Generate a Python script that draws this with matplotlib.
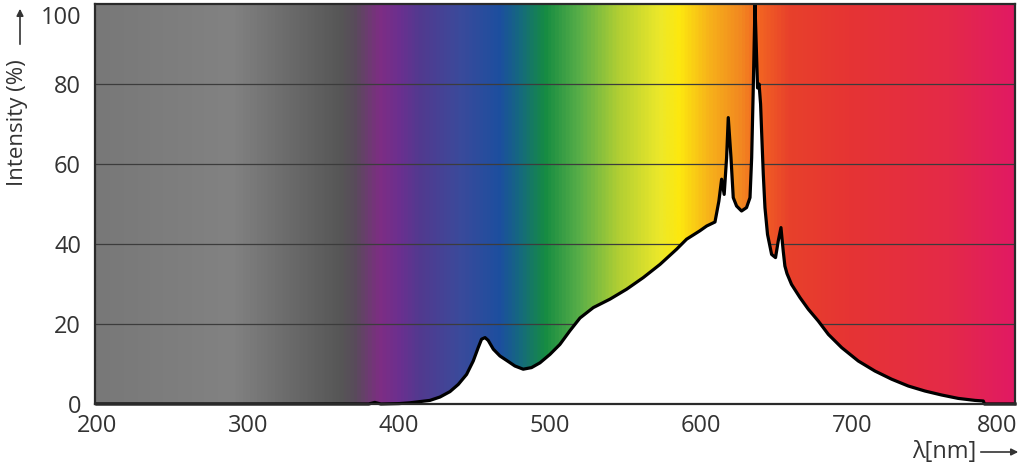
import numpy as np
import matplotlib
matplotlib.use("Agg")
import matplotlib.pyplot as plt
import matplotlib.patches as mpatches
import matplotlib.transforms as mtransforms
from matplotlib.colors import LinearSegmentedColormap

# ---- data ----
wavelength = [200, 380, 384, 388, 400, 407.3, 413.9, 420.5, 427.2, 433.8, 439.3, 444.8,
              449.2, 452.5, 454.7, 457, 459.1, 462.5, 466.9, 471.3, 476.8, 482.3,
              487.8, 493.4, 500, 506.6, 513.2, 519.9, 528.7, 539.7, 550.8, 561.8,
              572.9, 583.9, 590.5, 599.3, 603.8, 609.3, 611.9, 613.7, 615.4, 617,
              618.1, 619.9, 621.4, 623.6, 626.9, 630.2, 632.5, 633.6, 634.6, 635.8,
              636.6, 637.5, 638.5, 639.5, 640.2, 641.3, 642.4, 644.1, 646.8, 649.4,
              651.2, 653, 654.5, 655.6, 657, 660, 665.6, 671.1, 677.7, 684.4, 693.2,
              704.2, 715.2, 726.3, 737.3, 748.3, 759.4, 770.4, 781.5, 787, 787.8, 808]
intensity = [0, 0, 0.4, 0, 0.1, 0.3, 0.6, 0.9, 1.75, 3.1, 4.9, 7.4,
             10.75, 14.1, 16.2, 16.6, 15.9, 13.7, 12, 10.9, 9.5, 8.7,
             9.1, 10.3, 12.4, 14.9, 18.3, 21.5, 24.1, 26.2, 28.7, 31.6,
             34.9, 38.7, 41.2, 43.3, 44.5, 45.5, 50.75, 56.2, 52.4, 61.6,
             71.6, 61.6, 51.6, 49.5, 48.25, 49.1, 51.6, 61.6, 78, 99.8,
             90, 79, 80, 75, 68, 57.4, 49.1, 42.4, 37.4, 36.6,
             40.75, 44.1, 38.25, 34.5, 32.6, 29.9, 26.6, 23.7, 20.75, 17.4, 14.1,
             10.75, 8.25, 6.2, 4.5, 3.25, 2.25, 1.4, 0.9, 0.75, 0, 0]
x_ticks = [200, 300, 400, 500, 600, 700, 800]
y_ticks = [0, 20, 40, 60, 80, 100]

# ---- background colour stops (style) ----
stops = [(198.7, "#787878"), (288, "#828282"), (321, "#6e6e6e"), (361, "#565656"),
         (371, "#5a4a5c"), (387, "#7e2d84"), (400.7, "#6a3090"), (414, "#513a8f"),
         (440, "#3b4a9b"), (467, "#1c4f9f"), (480, "#15697f"), (497, "#168c42"),
         (520, "#5aaf48"), (546, "#b2cf33"), (573, "#ece82a"), (586, "#fde80f"),
         (606, "#f7b21a"), (626, "#f28a20"), (639, "#f26522"), (659, "#e8412b"),
         (699, "#e63434"), (765, "#e42a48"), (808, "#e11a63")]

xmin, xmax = 198.7, 808
ymin, ymax = 0, 100

plt.rcParams['font.family'] = ['Open Sans', 'DejaVu Sans']
fig = plt.figure(figsize=(10.24, 4.69), dpi=100)
ax = fig.add_axes([95/1024, 1 - 404/469, (1015-95)/1024, 400/469])

pos = [(p - xmin) / (xmax - xmin) for p, _ in stops]
pos[0] = 0.0
pos[-1] = 1.0
cmap = LinearSegmentedColormap.from_list("bg", list(zip(pos, [c for _, c in stops])))
grad = np.linspace(0, 1, 1200).reshape(1, -1)
ax.imshow(grad, cmap=cmap, aspect='auto', extent=[xmin, xmax, ymin, ymax],
          interpolation='bilinear', zorder=0)

for yv in y_ticks[1:-1]:
    ax.axhline(yv, color='#3c3c3c', lw=0.9, zorder=1)

ax.fill_between(wavelength, intensity, 0, color='white', zorder=2, lw=0)
ax.plot(wavelength, intensity, color='black', lw=2.3, zorder=3,
        solid_joinstyle='round', clip_on=False)

ax.set_xlim(xmin, xmax)
ax.set_ylim(ymin, ymax)
ax.set_xticks(x_ticks)
ax.set_yticks(y_ticks)
ax.tick_params(length=0, labelsize=17, colors='#333333', pad=7)
ax.tick_params(axis='y', pad=10)
for s in ax.spines.values():
    s.set_color('#2a2a2a')
    s.set_linewidth(1.6)
    s.set_zorder(4)

fig.canvas.draw()
ylabels = ax.get_yticklabels()
ylabels[-1].set_transform(ylabels[-1].get_transform() +
                          mtransforms.ScaledTranslation(0, -11/100, fig.dpi_scale_trans))
xlabels = ax.get_xticklabels()
xlabels[-1].set_transform(xlabels[-1].get_transform() +
                          mtransforms.ScaledTranslation(-6/100, 0, fig.dpi_scale_trans))

# y label with arrow
fig.text(18/1024, 1 - 123/469, "Intensity (%)", rotation=90, ha='center', va='center',
         fontsize=16, color='#333333')
fig.add_artist(mpatches.FancyArrowPatch(
    (20/1024, 1 - 47/469), (20/1024, 1 - 6/469), transform=fig.transFigure,
    arrowstyle='-|>', mutation_scale=10, color='#333333', lw=1.2))

# x label with arrow
fig.text(976/1024, 1 - 452/469, "λ[nm]", ha='right', va='center',
         fontsize=17, color='#333333')
fig.add_artist(mpatches.FancyArrowPatch(
    (978/1024, 1 - 452/469), (1021/1024, 1 - 452/469), transform=fig.transFigure,
    arrowstyle='-|>', mutation_scale=10, color='#333333', lw=1.2))

fig.savefig("out.png", dpi=100)
